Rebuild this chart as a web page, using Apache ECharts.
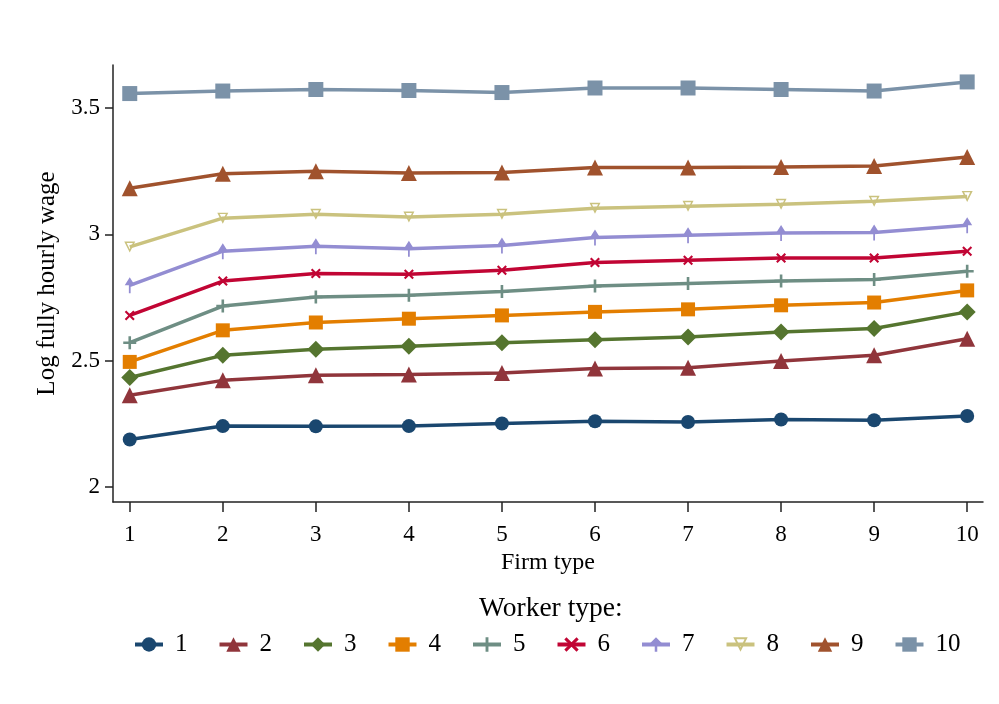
<!DOCTYPE html>
<html>
<head>
<meta charset="utf-8">
<title>Log fully hourly wage by firm type</title>
<script src="https://cdn.jsdelivr.net/npm/echarts@6.0.0/dist/echarts.min.js"></script>
<style>
  html, body { margin: 0; padding: 0; background: #fff; }
  #chart { width: 999px; height: 704px; }
</style>
</head>
<body>
<div id="chart"></div>
<script>
// 横轴: 企业类型
var firmTypes = [1, 2, 3, 4, 5, 6, 7, 8, 9, 10];
var yTicks = [2, 2.5, 3, 3.5];
var workerTypes = ['1', '2', '3', '4', '5', '6', '7', '8', '9', '10'];

// 每类劳动者的对数工资
var wage1  = [2.188, 2.241, 2.240, 2.241, 2.251, 2.260, 2.257, 2.267, 2.264, 2.281];
var wage2  = [2.363, 2.422, 2.442, 2.445, 2.451, 2.469, 2.472, 2.499, 2.521, 2.587];
var wage3  = [2.433, 2.521, 2.545, 2.557, 2.571, 2.583, 2.594, 2.613, 2.627, 2.693];
var wage4  = [2.495, 2.620, 2.651, 2.666, 2.679, 2.693, 2.703, 2.719, 2.730, 2.778];
var wage5  = [2.571, 2.716, 2.752, 2.759, 2.774, 2.795, 2.805, 2.815, 2.821, 2.854];
var wage6  = [2.679, 2.815, 2.845, 2.842, 2.858, 2.888, 2.897, 2.906, 2.906, 2.933];
var wage7  = [2.798, 2.933, 2.953, 2.943, 2.956, 2.987, 2.996, 3.005, 3.007, 3.036];
var wage8  = [2.950, 3.064, 3.079, 3.068, 3.079, 3.103, 3.111, 3.119, 3.131, 3.150];
var wage9  = [3.182, 3.240, 3.250, 3.243, 3.245, 3.264, 3.264, 3.266, 3.270, 3.306];
var wage10 = [3.557, 3.567, 3.573, 3.569, 3.561, 3.579, 3.579, 3.573, 3.567, 3.603];

var wages = [wage1, wage2, wage3, wage4, wage5, wage6, wage7, wage8, wage9, wage10];

// Stata s2color 配色
var colors = ['#1a476f', '#90353b', '#55752f', '#e37e00', '#6e8e84',
              '#c10534', '#938dd2', '#cac27e', '#a0522d', '#7b92a8'];

var plusPath = 'path://M4,0 H6 V4 H10 V6 H6 V10 H4 V6 H0 V4 H4 Z';
var xPath = 'path://M0,1.5 L1.5,0 L5,3.5 L8.5,0 L10,1.5 L6.5,5 L10,8.5 L8.5,10 L5,6.5 L1.5,10 L0,8.5 L3.5,5 Z';
var arrowPath = 'path://M5,0 L9,8 L5.7,8 L5.7,16 L4.3,16 L4.3,8 L1,8 Z';
var hollowDownTri = 'path://M0,0 L10,0 L5,9 Z M2.2,1.2 L5,6.3 L7.8,1.2 Z';

var symbols = ['circle', 'triangle', 'diamond', 'rect', plusPath,
               xPath, arrowPath, hollowDownTri, 'triangle', 'rect'];
var symbolSizes = [14, 16, 17, 14, 13, 10, [10, 16], 11, 16, 15];

var fontName = '"Liberation Serif", "DejaVu Serif", serif';

var series = wages.map(function (w, i) {
  return {
    name: workerTypes[i],
    type: 'line',
    data: firmTypes.map(function (f, j) { return [f, w[j]]; }),
    symbol: symbols[i],
    symbolSize: symbolSizes[i],
    showAllSymbol: true,
    lineStyle: { color: colors[i], width: 3.5 },
    itemStyle: { color: colors[i], opacity: 1 },
    emphasis: { disabled: true },
    animation: false
  };
});

var myChart = echarts.init(document.getElementById('chart'));
var Options = {
  backgroundColor: '#fff',
  textStyle: { fontFamily: fontName },
  color: colors,
  graphic: [
    {
      type: 'text',
      left: 479,
      top: 595,
      style: { text: 'Worker type:', font: '27.5px ' + fontName, fill: '#000' }
    }
  ],
  legend: {
    data: workerTypes,
    left: 133,
    top: 632,
    padding: 0,
    itemWidth: 28,
    itemHeight: 18,
    itemGap: 30,
    lineStyle: { width: 4 },
    textStyle: { fontFamily: fontName, fontSize: 25, color: '#000', padding: [0, 0, 0, 7] }
  },
  grid: {
    left: 113,
    right: 16,
    top: 65,
    bottom: 202,
    containLabel: false
  },
  xAxis: {
    type: 'value',
    min: 0.82,
    max: 10.17,
    name: 'Firm type',
    nameLocation: 'middle',
    nameGap: 42,
    nameTextStyle: { fontFamily: fontName, fontSize: 24, color: '#000' },
    axisLine: { show: true, lineStyle: { color: '#222', width: 1.5 } },
    axisTick: { show: true, length: 10, customValues: firmTypes, lineStyle: { color: '#222', width: 1.5 } },
    axisLabel: { customValues: firmTypes, margin: 21, fontFamily: fontName, fontSize: 23, color: '#000' },
    splitLine: { show: false }
  },
  yAxis: {
    type: 'value',
    min: 1.9406,
    max: 3.670,
    name: 'Log fully hourly wage',
    nameLocation: 'middle',
    nameGap: 53,
    nameTextStyle: { fontFamily: fontName, fontSize: 25, color: '#000' },
    axisLine: { show: true, lineStyle: { color: '#222', width: 1.5 } },
    axisTick: { show: true, length: 8, customValues: yTicks, lineStyle: { color: '#222', width: 1.5 } },
    axisLabel: { customValues: yTicks, margin: 13, fontFamily: fontName, fontSize: 23, color: '#000' },
    splitLine: { show: false }
  },
  series: series
};
myChart.setOption(Options);
</script>
</body>
</html>
